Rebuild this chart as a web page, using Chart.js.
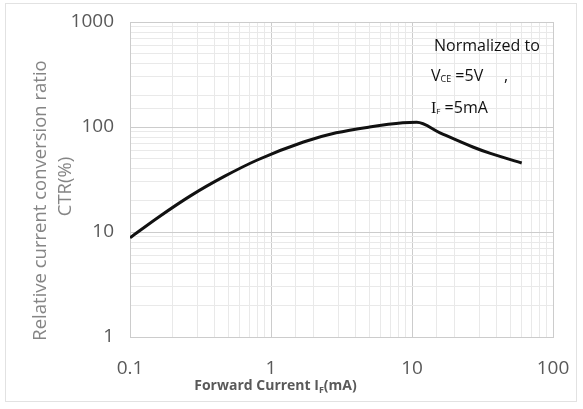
<!DOCTYPE html>
<html>
<head>
<meta charset="utf-8">
<script src="https://cdn.jsdelivr.net/npm/chart.js@4/dist/chart.umd.min.js"></script>
<style>
  html, body { margin: 0; padding: 0; background: #fff; }
  #wrap { position: relative; width: 583px; height: 409px; }
  #frame { position: absolute; left: 5px; top: 3px; width: 570px; height: 397px; border: 1px solid #e2e2e2; pointer-events: none; }
</style>
</head>
<body>
<div id="wrap">
  <canvas id="myChart" width="583" height="409"></canvas>
  <div id="frame"></div>
</div>
<script>
// forward current IF (mA) and relative CTR (%)
const forwardCurrent = [0.1, 0.16, 0.27, 0.47, 0.8, 1.7, 2.9, 5, 8.6, 10.8, 15.8, 27, 36, 60];
const ctrRatio = [8.8, 13.9, 22.2, 34, 48.5, 72, 88, 100, 109.5, 110.8, 88, 64.5, 56, 45.4];
const xTickLabels = [0.1, 1, 10, 100];
const yTickLabels = [1, 10, 100, 1000];
const yTitleLines = ['Relative current conversion ratio', 'CTR(%)'];

const points = forwardCurrent.map((x, i) => ({ x: x, y: ctrRatio[i] }));

const isDecade = v => Math.abs(Math.log10(v) - Math.round(Math.log10(v))) < 1e-6;
const gridColor = ctx => (ctx.tick && isDecade(ctx.tick.value)) ? '#cccccc' : '#e9e9e9';

// axis titles and note with subscripts, drawn by hand
const textPlugin = {
  id: 'texts',
  afterDraw(chart) {
    const c = chart.ctx;
    const xs = chart.scales.x;
    const ys = chart.scales.y;
    const area = chart.chartArea;
    c.save();
    c.textBaseline = 'alphabetic';
    c.textAlign = 'left';

    const run = (parts, x, y) => {
      parts.forEach(p => {
        c.font = p.font;
        c.fillStyle = p.color;
        c.fillText(p.t, x, y + (p.dy || 0));
        x += c.measureText(p.t).width;
      });
    };
    const width = parts => parts.reduce((w, p) => { c.font = p.font; return w + c.measureText(p.t).width; }, 0);

    // x axis title
    const g = '#595959';
    const title = [
      { t: 'Forward Current I', font: 'bold 14px "Open Sans"', color: g },
      { t: 'F', font: 'bold 9px "Open Sans"', color: g, dy: 3 },
      { t: '(mA)', font: 'bold 14px "Open Sans"', color: g }
    ];
    const cx = (xs.getPixelForValue(1) + xs.getPixelForValue(10)) / 2 - 66;
    run(title, cx - width(title) / 2, area.bottom + 53);

    // y axis title, two rotated lines
    const mid = (area.top + area.bottom) / 2;
    const vline = (txt, x, y) => {
      c.save();
      c.fillStyle = '#858585';
      c.textAlign = 'center';
      c.textBaseline = 'middle';
      c.font = '18.5px "Open Sans"';
      c.translate(x, y);
      c.rotate(-Math.PI / 2);
      c.fillText(txt, 0, 0);
      c.restore();
    };
    vline(yTitleLines[0], 41, mid + 21);
    vline(yTitleLines[1], 66, mid + 7);

    // normalized note
    const nx = xs.getPixelForValue(10) + 19;
    const k = '#111';
    const top = ys.getPixelForValue(1000);
    run([{ t: 'Normalized to', font: '16px "Open Sans"', color: k }], nx + 3, top + 29);
    run([
      { t: 'V', font: '16px "Open Sans"', color: k },
      { t: 'CE', font: '9px "Open Sans"', color: k, dy: 1 },
      { t: ' =5V     ,', font: '16px "Open Sans"', color: k }
    ], nx, top + 59);
    run([
      { t: 'I', font: '16px "Liberation Serif"', color: k },
      { t: 'F', font: '8px "Open Sans"', color: k, dy: 1 },
      { t: ' =5mA', font: '16px "Open Sans"', color: k }
    ], nx, top + 91);
    c.restore();
  }
};

const ctx = document.getElementById('myChart').getContext('2d');
new Chart(ctx, {
  type: 'line',
  data: {
    datasets: [{
      label: 'CTR',
      data: points,
      borderColor: '#111',
      borderWidth: 3,
      pointRadius: 0,
      fill: false,
      cubicInterpolationMode: 'monotone'
    }]
  },
  plugins: [textPlugin],
  options: {
    responsive: false,
    animation: false,
    layout: { padding: { left: 8, top: 22, right: 30, bottom: 0 } },
    plugins: { legend: { display: false }, tooltip: { enabled: false } },
    scales: {
      x: {
        type: 'logarithmic',
        min: 0.1,
        max: 100,
        afterFit: s => { s.height = 72; s.paddingLeft = 0; s.paddingRight = 0; },
        grid: { color: gridColor, drawTicks: false },
        border: { color: '#cccccc' },
        ticks: {
          autoSkip: false,
          maxRotation: 0,
          padding: 20,
          color: '#595959',
          font: { family: 'Open Sans', size: 19 },
          callback: v => xTickLabels.some(t => Math.abs(t - v) < 1e-9) ? String(v) : ''
        }
      },
      y: {
        type: 'logarithmic',
        min: 1,
        max: 1000,
        afterFit: s => { s.width = 122; s.paddingTop = 0; s.paddingBottom = 0; },
        grid: { color: gridColor, drawTicks: false },
        border: { color: '#cccccc' },
        ticks: {
          autoSkip: false,
          padding: 16,
          color: '#595959',
          font: { family: 'Open Sans', size: 19 },
          callback: v => yTickLabels.some(t => Math.abs(t - v) < 1e-9) ? String(v) : ''
        }
      }
    }
  }
});
</script>
</body>
</html>
